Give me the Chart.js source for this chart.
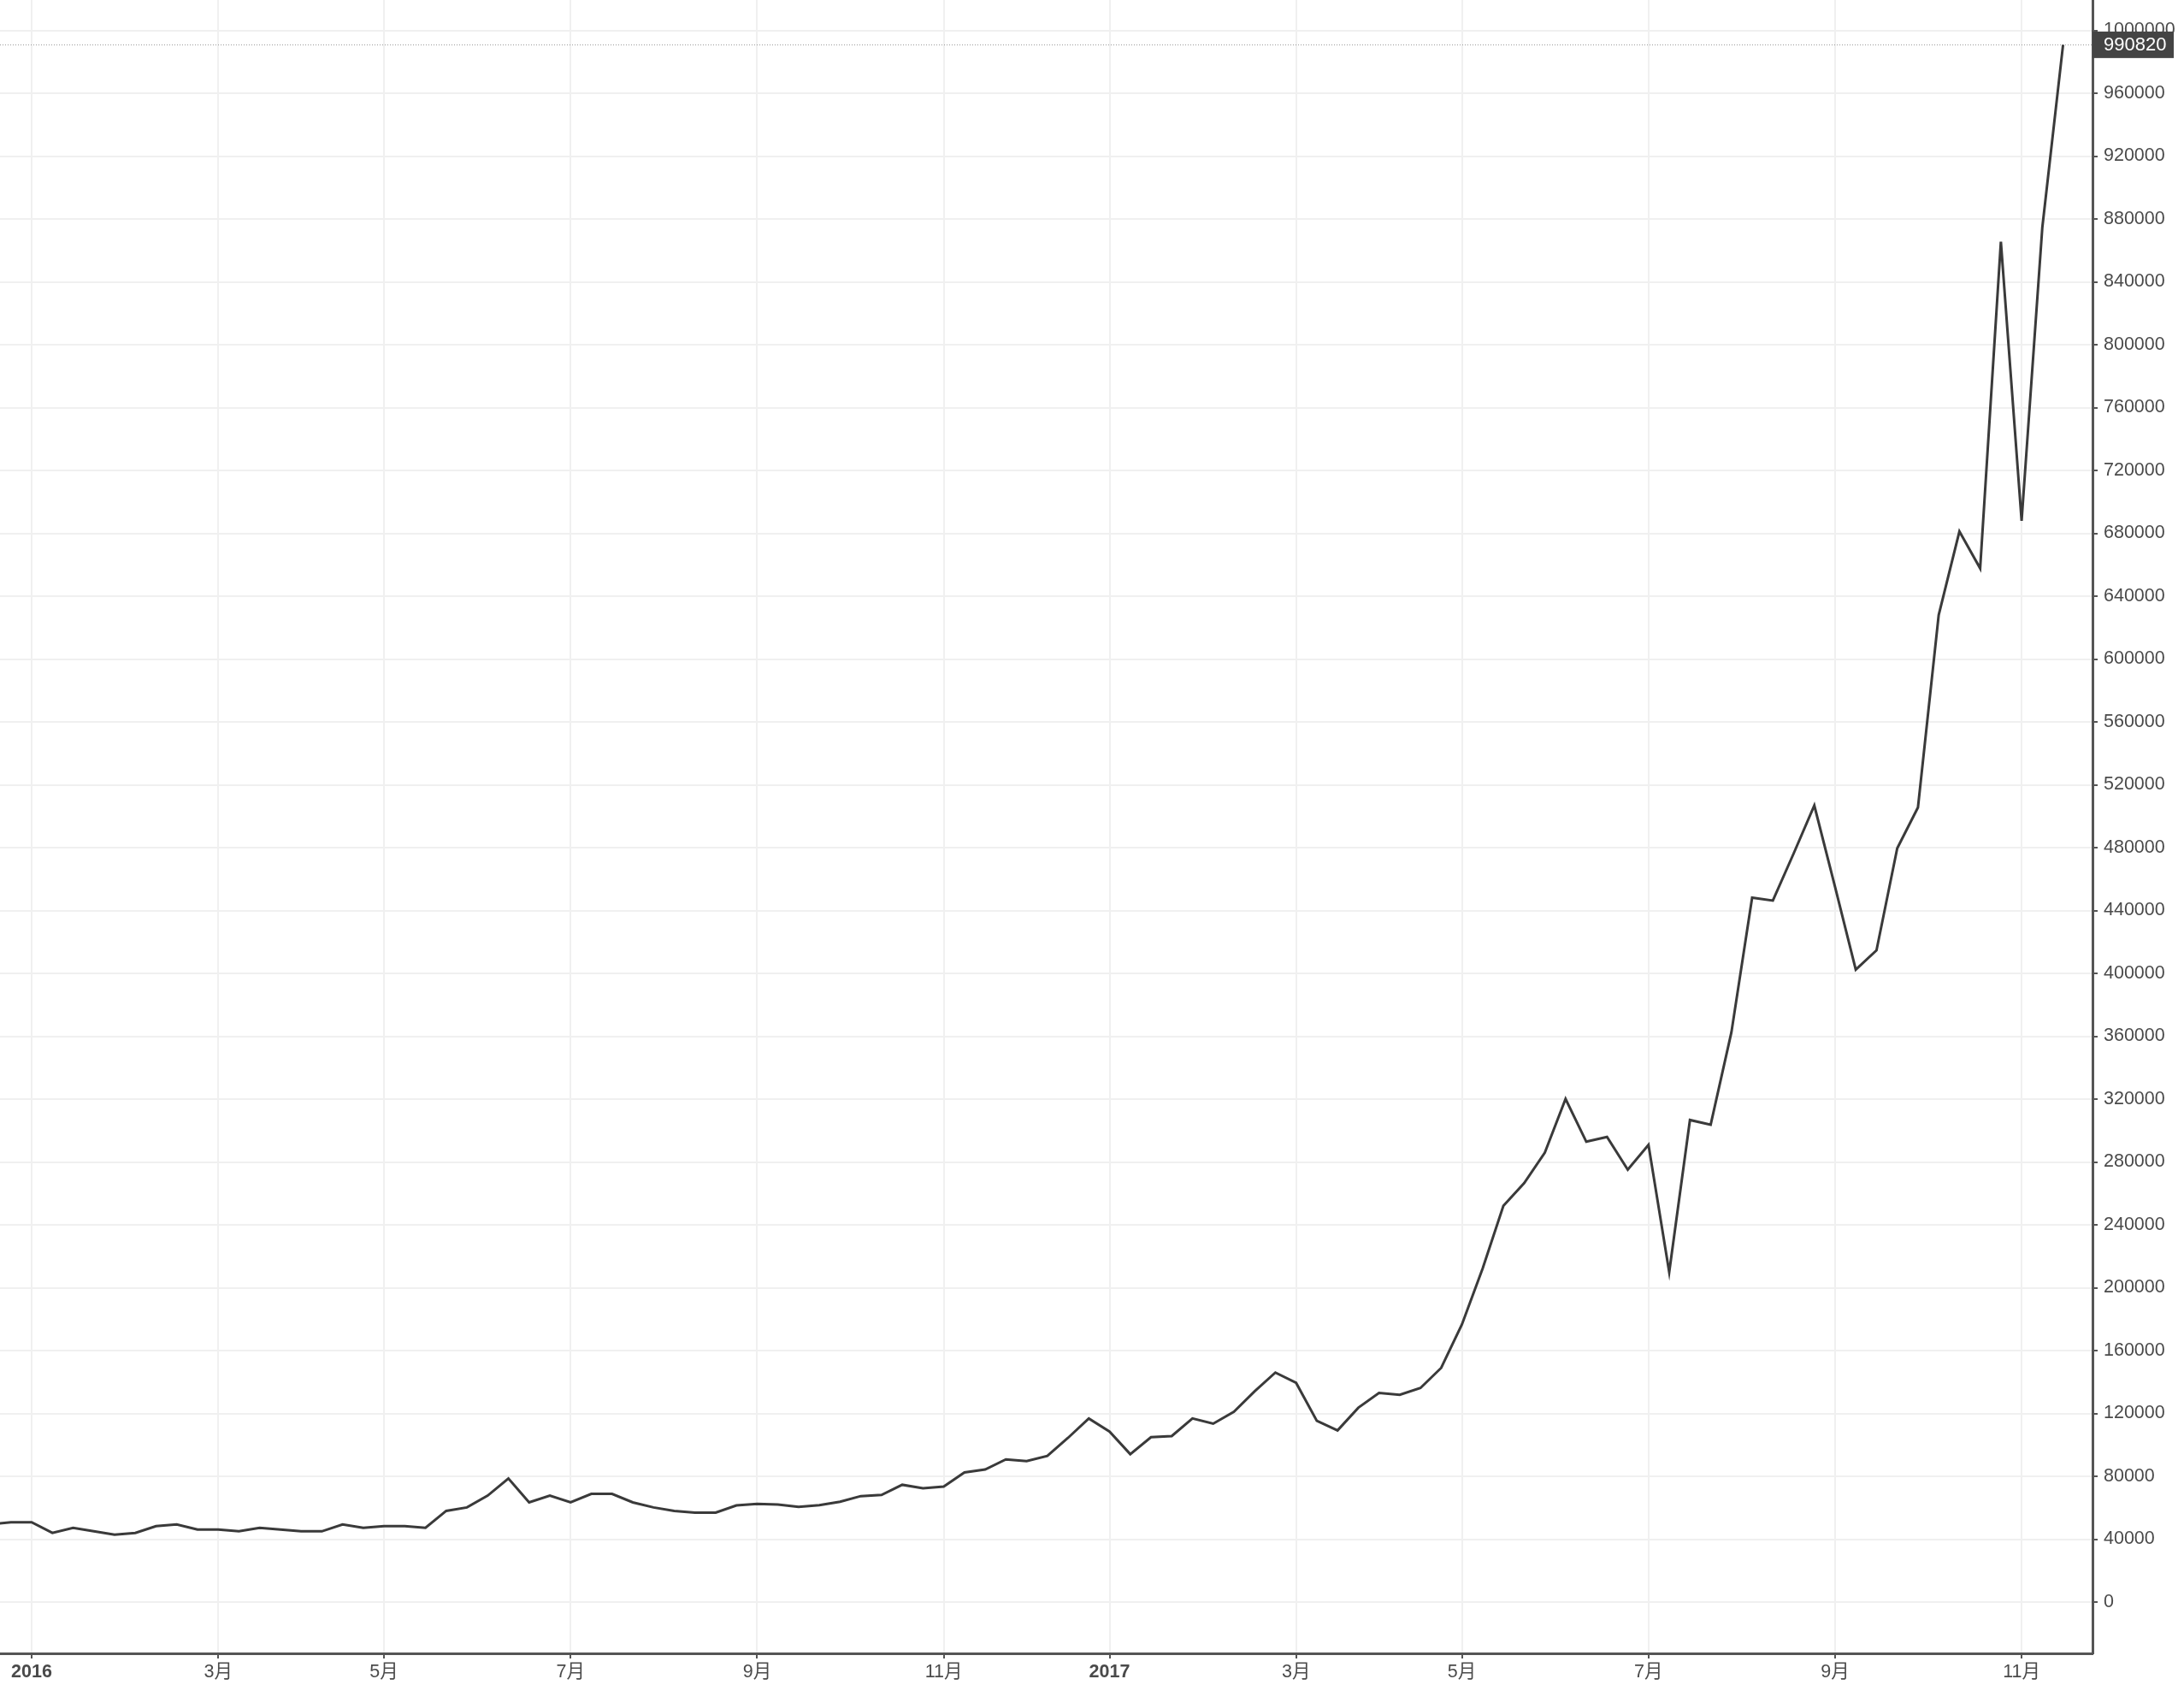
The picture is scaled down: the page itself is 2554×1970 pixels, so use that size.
<!DOCTYPE html>
<html>
<head>
    <meta charset="utf-8">
    <title>Weekly price</title>
    <script src="https://cdn.jsdelivr.net/npm/chart.js"></script>
    <style>
        html, body { margin: 0; padding: 0; background: #fff; }
        #wrap { width: 2554px; height: 1970px; position: relative; }
    </style>
</head>
<body>
    <div id="wrap"><canvas id="myChart"></canvas></div>

    <script>
        // weekly bars (Monday of each week)
        const weeks = [
            '2015-12-21', '2015-12-28',
            '2016-01-04', '2016-01-11', '2016-01-18', '2016-01-25', '2016-02-01', '2016-02-08', '2016-02-15', '2016-02-22',
            '2016-02-29', '2016-03-07', '2016-03-14', '2016-03-21', '2016-03-28', '2016-04-04', '2016-04-11', '2016-04-18',
            '2016-04-25', '2016-05-02', '2016-05-09', '2016-05-16', '2016-05-23', '2016-05-30', '2016-06-06', '2016-06-13',
            '2016-06-20', '2016-06-27', '2016-07-04', '2016-07-11', '2016-07-18', '2016-07-25', '2016-08-01', '2016-08-08',
            '2016-08-15', '2016-08-22', '2016-08-29', '2016-09-05', '2016-09-12', '2016-09-19', '2016-09-26', '2016-10-03',
            '2016-10-10', '2016-10-17', '2016-10-24', '2016-10-31', '2016-11-07', '2016-11-14', '2016-11-21', '2016-11-28',
            '2016-12-05', '2016-12-12', '2016-12-19', '2016-12-26',
            '2017-01-02', '2017-01-09', '2017-01-16', '2017-01-23', '2017-01-30', '2017-02-06', '2017-02-13', '2017-02-20',
            '2017-02-27', '2017-03-06', '2017-03-13', '2017-03-20', '2017-03-27', '2017-04-03', '2017-04-10', '2017-04-17',
            '2017-04-24', '2017-05-01', '2017-05-08', '2017-05-15', '2017-05-22', '2017-05-29', '2017-06-05', '2017-06-12',
            '2017-06-19', '2017-06-26', '2017-07-03', '2017-07-10', '2017-07-17', '2017-07-24', '2017-07-31', '2017-08-07',
            '2017-08-14', '2017-08-21', '2017-08-28', '2017-09-04', '2017-09-11', '2017-09-18', '2017-09-25', '2017-10-02',
            '2017-10-09', '2017-10-16', '2017-10-23', '2017-10-30', '2017-11-06', '2017-11-13', '2017-11-20'
        ];

        const prices = [
            49500, 50800,
            50800, 44000, 47200, 45000, 42900, 44000, 48300, 49400,
            46100, 46100, 45000, 47200, 46100, 45000, 45000, 49400,
            47200, 48300, 48300, 47200, 58000, 60200, 67700, 78600,
            63400, 67700, 63400, 68800, 68800, 63400, 60200, 58000,
            56900, 56900, 61500, 62500, 62000, 60500, 61600, 63800,
            67400, 68100, 74600, 72400, 73500, 82500, 84300, 90800,
            89700, 93000, 104500, 116800,
            108500, 94100, 104900, 105600, 116800, 113500, 121100, 134100,
            146000, 139500, 115300, 109200, 123600, 133000, 131900, 136200,
            149000, 176600, 212200, 252100, 266500, 285900, 320100, 292900,
            295900, 275100, 290900, 209900, 306700, 303700, 362500, 448200,
            446300, 476200, 506800, 455000, 402400, 414700, 479600, 505600,
            628000, 681200, 657700, 865500, 688000, 874700, 990820
        ];

        const xTickWeeks = ['2016-01-04', '2016-03-07', '2016-05-02', '2016-07-04', '2016-09-05', '2016-11-07',
                            '2017-01-02', '2017-03-06', '2017-05-01', '2017-07-03', '2017-09-04', '2017-11-06'];
        const xTickLabels = ['2016', '3月', '5月', '7月', '9月', '11月',
                             '2017', '3月', '5月', '7月', '9月', '11月'];
        const yTicks = [0, 40000, 80000, 120000, 160000, 200000, 240000, 280000, 320000, 360000, 400000,
                        440000, 480000, 520000, 560000, 600000, 640000, 680000, 720000, 760000, 800000,
                        840000, 880000, 920000, 960000, 1000000];
        const lastPrice = 990820;

        const FONT = "'Liberation Sans', Arial, 'Noto Sans CJK JP', sans-serif";
        const AXIS = '#555555';
        const GRID = '#f0f0f0';

        const tickIdx = xTickWeeks.map(w => weeks.indexOf(w));
        const labelAt = {};
        tickIdx.forEach((ix, k) => { labelAt[ix] = xTickLabels[k]; });

        const lastPriceMark = {
            id: 'lastPriceMark',
            beforeDatasetsDraw(chart) {
                const { ctx, chartArea, scales } = chart;
                const py = Math.round(scales.y.getPixelForValue(lastPrice)) + 0.5;
                ctx.save();
                ctx.strokeStyle = '#9a9a9a';
                ctx.lineWidth = 1;
                ctx.setLineDash([1, 2]);
                ctx.beginPath();
                ctx.moveTo(chartArea.left, py);
                ctx.lineTo(chartArea.right, py);
                ctx.stroke();
                ctx.restore();
            },
            afterDraw(chart) {
                const { ctx, chartArea, scales } = chart;
                const py = scales.y.getPixelForValue(lastPrice);
                ctx.save();
                ctx.fillStyle = '#444444';
                ctx.fillRect(chartArea.right, py - 15.5, 95, 31);
                ctx.fillStyle = '#ffffff';
                ctx.font = '22px ' + FONT;
                ctx.textBaseline = 'middle';
                ctx.textAlign = 'left';
                ctx.fillText(String(lastPrice), chartArea.right + 13, py + 1);
                ctx.restore();
            }
        };

        const ctx = document.getElementById('myChart').getContext('2d');
        const myChart = new Chart(ctx, {
            type: 'line',
            data: {
                datasets: [{
                    data: prices.map((v, i) => ({ x: i, y: v })),
                    borderColor: '#3a3a3a',
                    borderWidth: 3,
                    pointRadius: 0,
                    tension: 0,
                    fill: false
                }]
            },
            options: {
                responsive: true,
                maintainAspectRatio: false,
                devicePixelRatio: 1,
                animation: false,
                layout: { padding: 0 },
                plugins: {
                    legend: { display: false },
                    tooltip: { enabled: false }
                },
                scales: {
                    x: {
                        type: 'linear',
                        min: 0.474,
                        max: 101.42,
                        afterBuildTicks: s => { s.ticks = tickIdx.map(v => ({ value: v })); },
                        afterFit: s => { s.height = 37; s.paddingLeft = 0; s.paddingRight = 0; },
                        grid: { color: GRID, lineWidth: 2, drawTicks: true, tickLength: 6, tickColor: AXIS, tickWidth: 2 },
                        border: { display: true, color: AXIS, width: 3 },
                        ticks: {
                            autoSkip: false,
                            maxRotation: 0,
                            padding: 3,
                            color: '#4a4a4a',
                            font: c => ({
                                family: FONT,
                                size: 21.5,
                                weight: (c.tick && /^\d{4}$/.test(labelAt[c.tick.value] || '')) ? 'bold' : 'normal'
                            }),
                            callback: v => labelAt[v]
                        }
                    },
                    y: {
                        type: 'linear',
                        position: 'right',
                        min: -32653,
                        max: 1019320,
                        afterBuildTicks: s => { s.ticks = yTicks.map(v => ({ value: v })); },
                        afterFit: s => { s.width = 107; s.paddingTop = 0; s.paddingBottom = 0; },
                        grid: { color: GRID, lineWidth: 2, drawTicks: true, tickLength: 6, tickColor: AXIS, tickWidth: 2 },
                        border: { display: true, color: AXIS, width: 3 },
                        ticks: {
                            padding: 7,
                            color: '#4a4a4a',
                            font: { family: FONT, size: 21.5 },
                            callback: v => String(v)
                        }
                    }
                }
            },
            plugins: [lastPriceMark]
        });
    </script>
</body>
</html>
